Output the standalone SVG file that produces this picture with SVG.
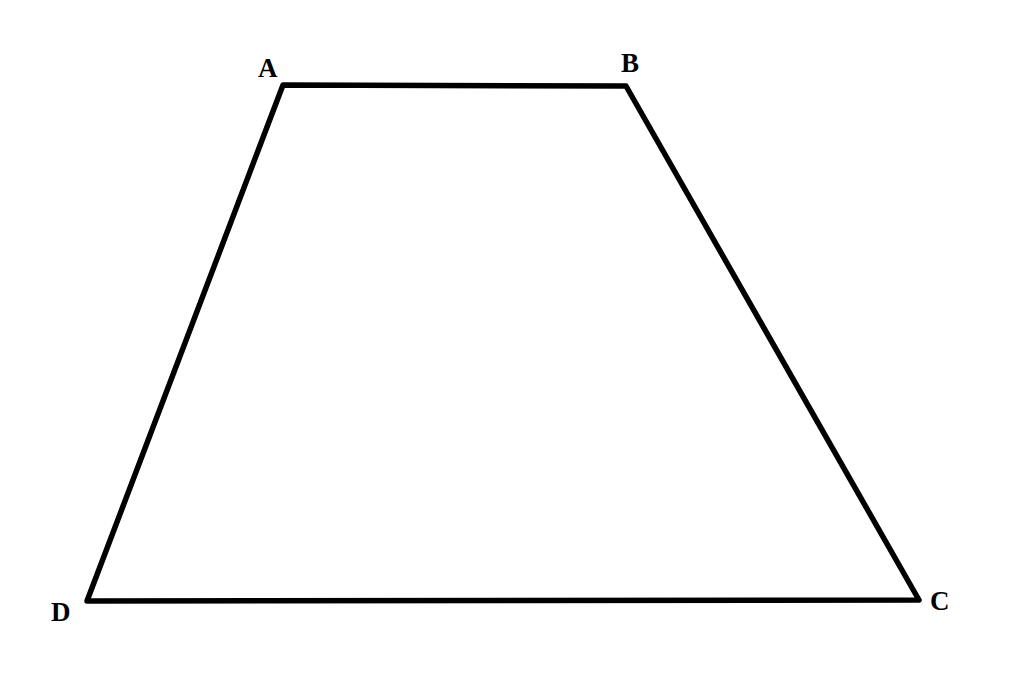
<svg xmlns="http://www.w3.org/2000/svg" width="1024" height="678" viewBox="0 0 1024 678">
<style>
.edge{fill:none;stroke:#000;stroke-width:5.5;stroke-linejoin:round;stroke-linecap:round}
.lbl{font-family:"Liberation Serif",serif;font-weight:bold;font-size:27px;fill:#000}
</style>
<rect width="1024" height="678" fill="#fff"/>
<g id="connectors">
<polygon class="edge" points="283,85 626,86 919,600 87,601"/>
</g>
<g id="A"><text class="lbl" x="258" y="77">A</text></g>
<g id="B"><text class="lbl" x="621" y="72">B</text></g>
<g id="C"><text class="lbl" x="930" y="610">C</text></g>
<g id="D"><text class="lbl" x="51" y="621">D</text></g>
</svg>
